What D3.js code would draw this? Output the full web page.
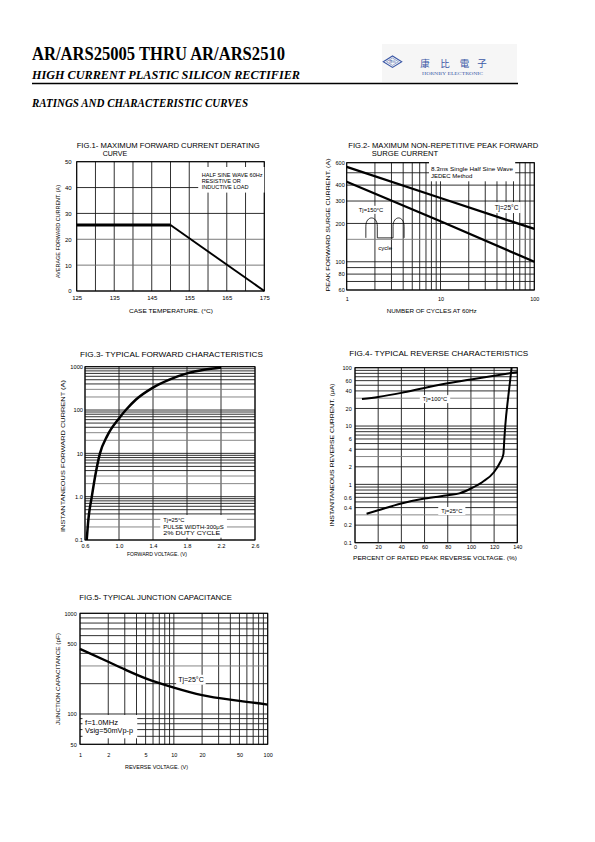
<!DOCTYPE html>
<html><head><meta charset="utf-8">
<script src="https://cdn.jsdelivr.net/npm/d3@7"></script>
<style>body{margin:0;background:#fff}svg{display:block}</style>
</head><body>
<script>
// ---------------- DATA ----------------
// Fig.1 derating curve
const fig1Temp = [125, 150, 175];
const fig1Current = [25.5, 25.5, 0];
const fig1TempTicks = [125, 135, 145, 155, 165, 175];
const fig1CurrentTicks = [0, 10, 20, 30, 40, 50];

// Fig.2 surge current
const fig2Cycles = [1, 10, 100];
const fig2Tj25 = [557, 317, 181];
const fig2Tj150 = [425, 208, 100];
const fig2CycleTicks = [1, 10, 100];
const fig2CurrentTicks = [60, 80, 100, 200, 300, 400, 600];

// Fig.3 forward characteristics
const fig3Voltage = [0.62, 0.64, 0.68, 0.72, 0.776, 0.86, 1.0, 1.08, 1.2, 1.4, 1.6, 1.8, 2.0, 2.2];
const fig3Current = [0.1, 0.3, 1, 3, 10, 25, 64, 100, 175, 330, 510, 700, 850, 960];
const fig3VoltTicks = [0.6, 1.0, 1.4, 1.8, 2.2, 2.6];
const fig3CurrTicks = [0.1, 1, 10, 100, 1000];
const fig3CurrLabels = ['0.1', '1.0', '10', '100', '1000'];

// Fig.4 reverse characteristics
const fig4Pct100 = [6, 20, 40, 60, 80, 100, 120, 140];
const fig4Tj100 = [29, 31.5, 37, 45, 54, 63, 73, 84];
const fig4Pct25 = [10, 20, 40, 60, 80, 90, 100, 110, 120, 125, 128, 128.8, 129.6, 132.2, 135.1];
const fig4Tj25 = [0.314, 0.36, 0.47, 0.57, 0.65, 0.70, 0.85, 1.1, 1.63, 2.35, 3.3, 5.9, 10, 32, 100];
const fig4PctTicks = [0, 20, 40, 60, 80, 100, 120, 140];
const fig4CurrTicks = [0.1, 0.2, 0.4, 0.6, 1, 2, 4, 6, 10, 20, 40, 60, 100];

// Fig.5 junction capacitance
const fig5Voltage = [1, 2, 3, 5, 10, 20, 50, 100];
const fig5Cap = [443, 330, 277, 226, 183, 154, 135, 124];
const fig5VoltTicks = [1, 2, 5, 10, 20, 50, 100];
const fig5CapTicks = [50, 100, 500, 1000];

// ---------------- SETUP ----------------
const W = 595, H = 842;
const SANS = "'Liberation Sans', Arial, Helvetica, sans-serif";
const SERIF = "'Liberation Serif', 'Times New Roman', serif";
const svg = d3.select('body').append('svg').attr('width', W).attr('height', H);
svg.append('rect').attr('width', W).attr('height', H).attr('fill', '#fff');

function txt(g, s, x, y, o = {}) {
  const t = g.append('text').attr('x', x).attr('y', y).text(s)
    .attr('font-family', o.family || SANS).attr('font-size', o.size || 6)
    .attr('fill', o.fill || '#000').attr('text-anchor', o.anchor || 'start');
  if (o.weight) t.attr('font-weight', o.weight);
  if (o.style) t.attr('font-style', o.style);
  if (o.len) t.attr('textLength', o.len).attr('lengthAdjust', 'spacingAndGlyphs');
  if (o.rotate) t.attr('transform', `rotate(-90,${x},${y})`);
  if (o.dy) t.attr('dy', o.dy);
  return t;
}

function logGrid(a, b) {
  const out = [];
  for (let e = Math.floor(Math.log10(a)); e <= Math.ceil(Math.log10(b)); e++) {
    for (let m = 1; m < 10; m++) {
      const v = m * Math.pow(10, e);
      if (v >= a * 0.999 && v <= b * 1.001) out.push(+v.toPrecision(3));
    }
  }
  return out;
}

function panel(c) {
  const g = svg.append('g');
  const x = c.x, y = c.y;
  const [xa, xb] = x.range(), [ya, yb] = y.range();
  const gridCol = c.gridColor || (() => '#1a1a1a');
  g.selectAll(null).data(c.xGrid).join('line')
    .attr('x1', d => x(d)).attr('x2', d => x(d)).attr('y1', ya).attr('y2', yb)
    .attr('stroke', d => gridCol(d, 'x')).attr('stroke-width', 0.9);
  g.selectAll(null).data(c.yGrid).join('line')
    .attr('y1', d => y(d)).attr('y2', d => y(d)).attr('x1', xa).attr('x2', xb)
    .attr('stroke', d => gridCol(d, 'y')).attr('stroke-width', 0.9);
  g.append('rect').attr('x', xa).attr('y', yb).attr('width', xb - xa).attr('height', ya - yb)
    .attr('fill', 'none').attr('stroke', '#000').attr('stroke-width', 1);

  const gx = g.append('g').attr('transform', `translate(0,${ya})`)
    .call(d3.axisBottom(x).tickValues(c.xTicks).tickFormat(c.xFmt).tickSize(0).tickPadding(c.xPad));
  gx.select('.domain').remove();
  gx.selectAll('text').attr('font-family', SANS).attr('font-size', c.tick).attr('fill', '#000');
  const gy = g.append('g').attr('transform', `translate(${xa},0)`)
    .call(d3.axisLeft(y).tickValues(c.yTicks).tickFormat(c.yFmt).tickSize(0).tickPadding(c.yPad));
  gy.select('.domain').remove();
  gy.selectAll('text').attr('font-family', SANS).attr('font-size', c.tick).attr('fill', '#000');
  return g;
}

function note(g, lines, o) {
  const ng = g.append('g');
  const tg = ng.append('g');
  lines.forEach((s, i) => {
    txt(tg, s, o.x, o.y + i * (o.lh || 0), { size: o.size, anchor: o.anchor, len: o.lens ? o.lens[i] : null, dy: o.dy });
  });
  const b = tg.node().getBBox();
  const p = o.pad || [1, 1, 1, 1]; // top right bottom left
  ng.insert('rect', 'g').attr('x', b.x - p[3]).attr('y', b.y - p[0])
    .attr('width', b.width + p[1] + p[3]).attr('height', b.height + p[0] + p[2]).attr('fill', '#fff');
  return ng;
}

function curve(g, x, y, xs, ys, w, curveType) {
  const idx = d3.range(xs.length);
  g.append('path').datum(idx)
    .attr('d', d3.line().x(i => x(xs[i])).y(i => y(ys[i])).curve(curveType || d3.curveLinear))
    .attr('fill', 'none').attr('stroke', '#000').attr('stroke-width', w)
    .attr('stroke-linejoin', 'round').attr('stroke-linecap', 'butt');
}

// ---------------- HEADER ----------------
const hdr = svg.append('g');
txt(hdr, 'AR/ARS25005 THRU AR/ARS2510', 32, 59.5, { family: SERIF, size: 18, weight: 'bold', len: 253 });
txt(hdr, 'HIGH CURRENT PLASTIC SILICON RECTIFIER', 32, 79, { family: SERIF, size: 13, weight: 'bold', style: 'italic', len: 268 });
hdr.append('line').attr('x1', 32).attr('x2', 518).attr('y1', 83.5).attr('y2', 83.5).attr('stroke', '#000').attr('stroke-width', 1.7);
txt(hdr, 'RATINGS AND CHARACTERISTIC CURVES', 32, 106.5, { family: SERIF, size: 12, weight: 'bold', style: 'italic', len: 216 });
// logo
hdr.append('rect').attr('x', 382).attr('y', 44).attr('width', 135).attr('height', 38).attr('fill', '#f6f6f6');
const BLUE = '#3b58a6';
hdr.append('path').attr('d', 'M383.3,61.7 L392.5,56 L401.7,61.7 L392.5,67.4 Z').attr('fill', 'none').attr('stroke', BLUE).attr('stroke-width', 1.1);
hdr.append('path').attr('d', 'M386.5,61.7 L392.5,58 L398.5,61.7 L392.5,65.4 Z').attr('fill', 'none').attr('stroke', BLUE).attr('stroke-width', 0.5);
txt(hdr, '康比', 392.5, 63, { family: "'Noto Sans CJK TC'", size: 3.6, anchor: 'middle', fill: BLUE });
[['康', 425], ['比', 445], ['電', 464.5], ['子', 482]].forEach(([ch, cx]) =>
  txt(hdr, ch, cx, 66.5, { family: "'Noto Sans CJK TC'", size: 9.5, anchor: 'middle', fill: BLUE }));
txt(hdr, 'HORNBY ELECTRONIC', 422, 75, { family: SERIF, size: 4.6, fill: BLUE, len: 61 });

// ---------------- FIG.1 ----------------
{
  const x = d3.scaleLinear([125, 175], [76.7, 264.3]);
  const y = d3.scaleLinear([0, 50], [291, 161.7]);
  const g = panel({
    x, y, xGrid: d3.range(125, 176, 5), yGrid: fig1CurrentTicks,
    gridColor: (d, a) => (a === 'y' && (d === 10 || d === 20)) ? '#6a6a6a' : '#1a1a1a',
    xTicks: fig1TempTicks, yTicks: fig1CurrentTicks, xFmt: d => d, yFmt: d => d,
    xPad: 4.5, yPad: 5, tick: 6
  });
  note(g, ['HALF SINE WAVE 60Hz', 'RESISTIVE OR', 'INDUCTIVE LOAD'],
    { x: 201.7, y: 176.5, lh: 6.3, size: 5.6, pad: [4.5, 1.5, 2.5, 3.5] });
  curve(g, x, y, fig1Temp.slice(0, 2), fig1Current.slice(0, 2), 3);
  curve(g, x, y, fig1Temp.slice(1), fig1Current.slice(1), 1.9);
  txt(g, 'FIG.1- MAXIMUM FORWARD CURRENT DERATING', 76.7, 147.5, { size: 8, len: 183 });
  txt(g, 'CURVE', 102.7, 156, { size: 8, len: 24.5 });
  txt(g, 'CASE TEMPERATURE. (°C)', 171, 312.5, { size: 5.8, anchor: 'middle', len: 84 });
  txt(g, 'AVERAGE FORWARD CURRENT. (A)', 60, 231.5, { size: 5.8, anchor: 'middle', rotate: true, len: 93 });
}

// ---------------- FIG.2 ----------------
{
  const x = d3.scaleLog([1, 100], [346.7, 534.3]);
  const y = d3.scaleLog([60, 600], [290, 162.7]);
  const g = panel({
    x, y, xGrid: logGrid(1, 100), yGrid: [60, 70, 80, 90, 100, 150, 200, 300, 400, 500, 600],
    gridColor: (d, a) => (a === 'y' && d === 150) ? '#7a7a7a' : '#1a1a1a',
    xTicks: fig2CycleTicks, yTicks: fig2CurrentTicks, xFmt: d => d, yFmt: d => d,
    xPad: 7, yPad: 2, tick: 5.5
  });
  note(g, ['8.3ms Single Half Sine Wave', 'JEDEC Method'],
    { x: 431, y: 171, lh: 7.3, size: 6, lens: [82, null], pad: [6, 1.5, 2, 2] });
  curve(g, x, y, fig2Cycles, fig2Tj25, 2.3);
  curve(g, x, y, fig2Cycles, fig2Tj150, 2.3);
  note(g, ['Tj=25°C'], { x: 506.5, y: y(268), size: 6.5, anchor: 'middle', dy: '0.35em', pad: [1.5, 2, 1.5, 2] });
  note(g, ['Tj=150°C'], { x: 371, y: y(256), size: 5.8, anchor: 'middle', dy: '0.35em', pad: [1, 1.5, 1, 1.5] });
  // half-sine cycle icon
  const ix = [1.6, 2.12, 3.12, 4.09].map(v => x(v));
  const yTop = y(221), ySh = y(190), yBase = y(154);
  const p = d3.path();
  const hump = (a, b) => {
    p.lineTo(a, ySh);
    p.bezierCurveTo(a, yTop - (ySh - yTop) * 0.33, b, yTop - (ySh - yTop) * 0.33, b, ySh);
    p.lineTo(b, yBase);
  };
  p.moveTo(ix[0], yBase);
  hump(ix[0], ix[1]);
  p.lineTo(ix[2], yBase);
  hump(ix[2], ix[3]);
  g.append('path').attr('d', p.toString()).attr('fill', 'none').attr('stroke', '#000').attr('stroke-width', 0.8);
  txt(g, 'cycle', (ix[1] + ix[2]) / 2, 250, { size: 6, anchor: 'middle' });
  txt(g, 'FIG.2- MAXIMUM NON-REPETITIVE PEAK FORWARD', 348.3, 147.5, { size: 8, len: 190 });
  txt(g, 'SURGE CURRENT', 371.7, 156, { size: 8, len: 66.5 });
  txt(g, 'NUMBER OF CYCLES AT 60Hz', 431.7, 313, { size: 5.5, anchor: 'middle', len: 90 });
  txt(g, 'PEAK FORWARD SURGE CURRENT. (A)', 330, 225, { size: 6, anchor: 'middle', rotate: true, len: 133 });
}

// ---------------- FIG.3 ----------------
{
  const x = d3.scaleLinear([0.6, 2.6], [85, 255]);
  const y = d3.scaleLog([0.1, 1000], [540, 366.7]);
  const g = panel({
    x, y, xGrid: fig3VoltTicks, yGrid: logGrid(0.1, 1000),
    gridColor: (d, a) => {
      if (a !== 'y') return '#1a1a1a';
      const m = Math.round(d / Math.pow(10, Math.floor(Math.log10(d) + 1e-9)));
      return (m === 2 || m === 3) ? '#7a7a7a' : '#1a1a1a';
    },
    xTicks: fig3VoltTicks, yTicks: fig3CurrTicks, xFmt: d3.format('.1f'),
    yFmt: d => fig3CurrLabels[fig3CurrTicks.indexOf(d)], xPad: 3.5, yPad: 2, tick: 5.7
  });
  note(g, ['Tj=25°C', 'PULSE WIDTH-300μS', '2% DUTY CYCLE'],
    { x: 163.3, y: 522, lh: 6.6, size: 5.8, lens: [null, 60.5, 57], pad: [2, 3, 1.5, 3] });
  curve(g, x, y, fig3Voltage, fig3Current, 2.5, d3.curveMonotoneX);
  txt(g, 'FIG.3- TYPICAL FORWARD CHARACTERISTICS', 80, 357, { size: 8, len: 183 });
  txt(g, 'FORWARD VOLTAGE. (V)', 157, 556, { size: 5, anchor: 'middle', len: 60 });
  txt(g, 'INSTANTANEOUS FORWARD CURRENT (A)', 65, 456, { size: 6, anchor: 'middle', rotate: true, len: 152 });
}

// ---------------- FIG.4 ----------------
{
  const x = d3.scaleLinear([0, 140], [355, 517.3]);
  const y = d3.scaleLog([0.1, 100], [542.7, 367.7]);
  const g = panel({
    x, y, xGrid: fig4PctTicks, yGrid: logGrid(0.1, 100),
    gridColor: (d, a) => {
      if (a !== 'y') return '#1a1a1a';
      const m = Math.round(d / Math.pow(10, Math.floor(Math.log10(d) + 1e-9)));
      return (m === 3) ? '#7a7a7a' : '#1a1a1a';
    },
    xTicks: fig4PctTicks, yTicks: fig4CurrTicks, xFmt: d => d, yFmt: d => d,
    xPad: 2.6, yPad: 3.3, tick: 5.5
  });
  note(g, ['Tj=100°C'], { x: x(69), y: y(29), size: 5.8, anchor: 'middle', dy: '0.35em', pad: [1, 3, 1, 3] });
  note(g, ['Tj=25°C'], { x: x(83.5), y: y(0.35), size: 5.8, anchor: 'middle', dy: '0.35em', pad: [1, 3, 1, 3] });
  curve(g, x, y, fig4Pct100, fig4Tj100, 2, d3.curveMonotoneX);
  curve(g, x, y, fig4Pct25, fig4Tj25, 2, d3.curveMonotoneX);
  txt(g, 'FIG.4- TYPICAL REVERSE CHARACTERISTICS', 349.3, 356, { size: 8, len: 179 });
  txt(g, 'PERCENT OF RATED PEAK REVERSE VOLTAGE. (%)', 435, 560, { size: 5.6, anchor: 'middle', len: 164 });
  txt(g, 'INSTANTANEOUS REVERSE CURRENT. (μA)', 334, 455, { size: 5.8, anchor: 'middle', rotate: true, len: 143 });
}

// ---------------- FIG.5 ----------------
{
  const x = d3.scaleLog([1, 100], [80, 267.7]);
  const y = d3.scaleLog([50, 1000], [744.3, 613.3]);
  const g = panel({
    x, y, xGrid: logGrid(1, 100), yGrid: logGrid(50, 1000),
    gridColor: (d, a) => (a === 'y' && d === 300) ? '#7a7a7a' : '#1a1a1a',
    xTicks: fig5VoltTicks, yTicks: fig5CapTicks, xFmt: d => d, yFmt: d => d,
    xPad: 8.5, yPad: 3.3, tick: 5.5
  });
  note(g, ['f=1.0MHz', 'Vsig=50mVp-p'], { x: 85, y: 725, lh: 8.3, size: 6.8, lens: [33, 48], pad: [4, 4, 3, 2.5] });
  note(g, ['Tj=25°C'], { x: x(15.2), y: y(221), size: 7, anchor: 'middle', dy: '0.35em', len: null, pad: [1, 2, 1, 2] });
  curve(g, x, y, fig5Voltage, fig5Cap, 2.4, d3.curveMonotoneX);
  txt(g, 'FIG.5- TYPICAL JUNCTION CAPACITANCE', 79.3, 600, { size: 8, len: 152.5 });
  txt(g, 'REVERSE VOLTAGE. (V)', 156.5, 769, { size: 5.2, anchor: 'middle', len: 63 });
  txt(g, 'JUNCTION CAPACITANCE (pF)', 60, 679, { size: 5.8, anchor: 'middle', rotate: true, len: 92 });
}
</script>
</body></html>
